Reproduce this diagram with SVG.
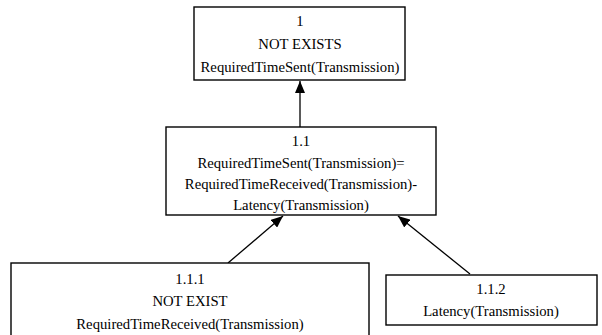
<svg xmlns="http://www.w3.org/2000/svg" width="602" height="335" viewBox="0 0 602 335">
<style>
.box{fill:#fff;stroke:#000;stroke-width:1.4}
.t{font-family:"Liberation Serif","Times New Roman",serif;font-size:14.7px;fill:#000;text-anchor:middle}
.edge{stroke:#000;stroke-width:1.3;fill:none}
</style>
<defs>
<marker id="ah" markerWidth="12" markerHeight="10" refX="12" refY="5" orient="auto" markerUnits="userSpaceOnUse">
<path d="M0,0 L12,5 L0,10 Z" fill="#000"/>
</marker>
</defs>
<rect width="602" height="335" fill="#fff"/>
<g id="connectors">
<line class="edge" x1="300" y1="127" x2="300" y2="81" marker-end="url(#ah)"/>
<line class="edge" x1="228" y1="263" x2="283" y2="216" marker-end="url(#ah)"/>
<line class="edge" x1="470" y1="274" x2="398" y2="216" marker-end="url(#ah)"/>
</g>
<g id="n1">
<rect class="box" x="194" y="7" width="211" height="73"/>
<text class="t" x="300" y="26">1</text>
<text class="t" x="300" y="49">NOT EXISTS</text>
<text class="t" x="300" y="72">RequiredTimeSent(Transmission)</text>
</g>
<g id="n1_1">
<rect class="box" x="166" y="127" width="270" height="88"/>
<text class="t" x="301" y="146">1.1</text>
<text class="t" x="301" y="168">RequiredTimeSent(Transmission)=</text>
<text class="t" x="301" y="189">RequiredTimeReceived(Transmission)-</text>
<text class="t" x="301" y="210">Latency(Transmission)</text>
</g>
<g id="n1_1_1">
<rect class="box" x="11" y="263" width="358" height="80"/>
<text class="t" x="190" y="284">1.1.1</text>
<text class="t" x="190" y="306">NOT EXIST</text>
<text class="t" x="190" y="329">RequiredTimeReceived(Transmission)</text>
</g>
<g id="n1_1_2">
<rect class="box" x="386" y="275" width="211" height="50"/>
<text class="t" x="491" y="294">1.1.2</text>
<text class="t" x="491" y="316">Latency(Transmission)</text>
</g>
</svg>
